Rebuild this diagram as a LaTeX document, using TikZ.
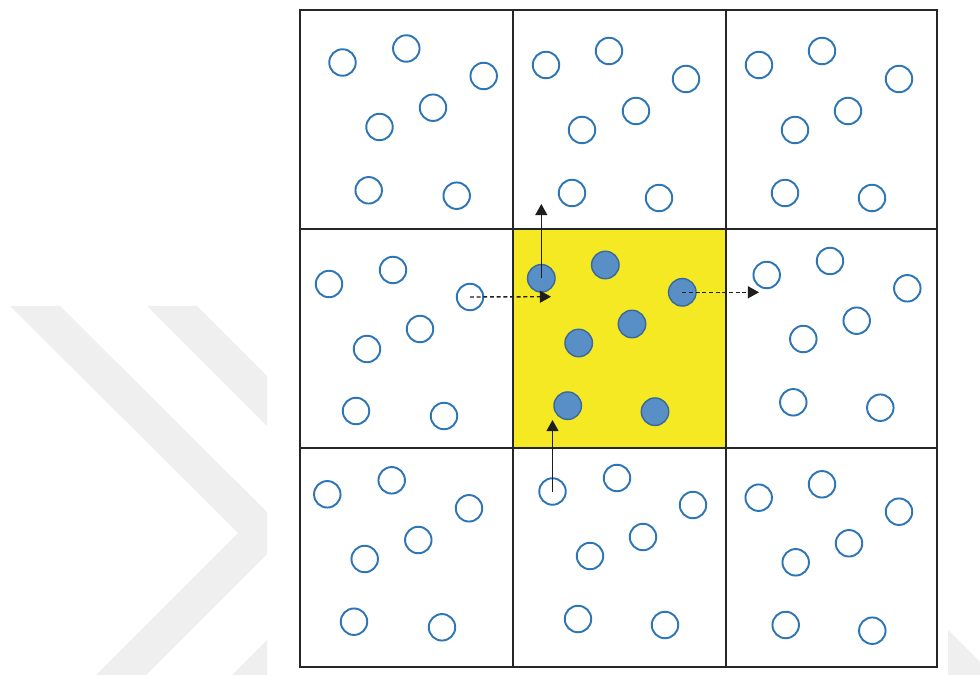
\documentclass[tikz,border=0pt]{standalone}
\usetikzlibrary{arrows.meta}
\definecolor{wm}{RGB}{239,239,239}
\definecolor{gridc}{RGB}{38,38,38}
\definecolor{cyel}{RGB}{245,233,35}
\definecolor{ring}{RGB}{46,117,182}
\definecolor{dotfill}{RGB}{88,143,198}
\definecolor{dotline}{RGB}{58,104,152}
\definecolor{arrc}{RGB}{30,30,30}
\tikzset{
  gridline/.style={draw=gridc, line width=1.25pt},
  openc/.style={circle, draw=ring, line width=1.1pt, minimum size=0.53cm, inner sep=0pt, fill=white},
  fullc/.style={circle, draw=dotline, line width=0.8pt, minimum size=0.55cm, inner sep=0pt, fill=dotfill},
  movearrow/.style={draw=arrc, line width=0.8pt, -{Triangle[length=6.3pt,width=6.8pt]}},
  jumparrow/.style={movearrow, dash pattern=on 2.2pt off 1.6pt}
}
\begin{document}
\begin{tikzpicture}[x=0.02cm,y=-0.02cm]
\useasboundingbox (0,0) rectangle (980,675);
% watermark
\begin{scope}
  \clip (0,0) rectangle (267,675);
  \fill[wm] (10,306) -- (60,306) -- (288,533) -- (146,675) -- (96,675) -- (238,533) -- cycle;
  \fill[wm] (147,306) -- (197,306) -- (424,533) -- (282,675) -- (232,675) -- (374,533) -- cycle;
\end{scope}
\fill[wm] (948,630) -- (980,662) -- (980,675) -- (948,675) -- cycle;
% grid
\fill[cyel] (513,229) rectangle (726,448);
\draw[gridline] (300,10) rectangle (937,667);
\draw[gridline] (513,10) -- (513,667) (726,10) -- (726,667)
                (300,229) -- (937,229) (300,448) -- (937,448);
% top-left cell
\node[openc] (tl1) at (342.5,62.5) {};
\node[openc] (tl2) at (406.3,48.5) {};
\node[openc] (tl3) at (483.7,76) {};
\node[openc] (tl4) at (379.5,127) {};
\node[openc] (tl5) at (433,107.7) {};
\node[openc] (tl6) at (368.7,190.3) {};
\node[openc] (tl7) at (456.7,195.7) {};
% top-middle cell
\node[openc] (tm1) at (546,65) {};
\node[openc] (tm2) at (609,51) {};
\node[openc] (tm3) at (686,79) {};
\node[openc] (tm4) at (582,130) {};
\node[openc] (tm5) at (636,111) {};
\node[openc] (tm6) at (572,193) {};
\node[openc] (tm7) at (659,198) {};
% top-right cell
\node[openc] (tr1) at (759,65) {};
\node[openc] (tr2) at (822,51) {};
\node[openc] (tr3) at (899,79) {};
\node[openc] (tr4) at (795,130) {};
\node[openc] (tr5) at (848,111) {};
\node[openc] (tr6) at (785,193) {};
\node[openc] (tr7) at (872,198) {};
% middle-left cell
\node[openc] (ml1) at (329,284) {};
\node[openc] (ml2) at (393,270) {};
\node[openc] (ml3) at (470,297) {};
\node[openc] (ml4) at (367,349) {};
\node[openc] (ml5) at (420,329) {};
\node[openc] (ml6) at (356,411) {};
\node[openc] (ml7) at (444,416) {};
% centre cell
\node[fullc] (c1) at (541.3,278.3) {};
\node[fullc] (c2) at (605.3,265) {};
\node[fullc] (c3) at (682.3,292.3) {};
\node[fullc] (c4) at (578.7,343) {};
\node[fullc] (c5) at (632,324) {};
\node[fullc] (c6) at (567.7,405.7) {};
\node[fullc] (c7) at (655,411.7) {};
% middle-right cell
\node[openc] (mr1) at (766.7,275) {};
\node[openc] (mr2) at (830,261) {};
\node[openc] (mr3) at (907.3,288.3) {};
\node[openc] (mr4) at (803.3,339) {};
\node[openc] (mr5) at (856.7,320.7) {};
\node[openc] (mr6) at (793.3,402.3) {};
\node[openc] (mr7) at (880.3,407.7) {};
% bottom-left cell
\node[openc] (bl1) at (327.3,494.3) {};
\node[openc] (bl2) at (391.7,480.3) {};
\node[openc] (bl3) at (469,508.3) {};
\node[openc] (bl4) at (364.7,559) {};
\node[openc] (bl5) at (418.3,540) {};
\node[openc] (bl6) at (354,621.7) {};
\node[openc] (bl7) at (442,627.3) {};
% bottom-middle cell
\node[openc] (bm1) at (552.5,491.5) {};
\node[openc] (bm2) at (617,478) {};
\node[openc] (bm3) at (693,505) {};
\node[openc] (bm4) at (590,556) {};
\node[openc] (bm5) at (643,537) {};
\node[openc] (bm6) at (578,619) {};
\node[openc] (bm7) at (665,625) {};
% bottom-right cell
\node[openc] (br1) at (758.7,497.7) {};
\node[openc] (br2) at (822,484.3) {};
\node[openc] (br3) at (899,511.7) {};
\node[openc] (br4) at (795.7,562.3) {};
\node[openc] (br5) at (849,543.3) {};
\node[openc] (br6) at (785.7,625) {};
\node[openc] (br7) at (872.3,630.7) {};
% arrow ends
\coordinate (up1) at (541.3,204);
\coordinate (in1) at (551,296.7);
\coordinate (out1) at (759,292.3);
\coordinate (up2) at (552.5,420);
% arrows
\draw[movearrow] (c1.center) -- (up1);
\draw[jumparrow] (ml3.center) -- (in1);
\draw[jumparrow] (c3.center) -- (out1);
\draw[movearrow] (bm1.center) -- (up2);
\end{tikzpicture}
\end{document}
